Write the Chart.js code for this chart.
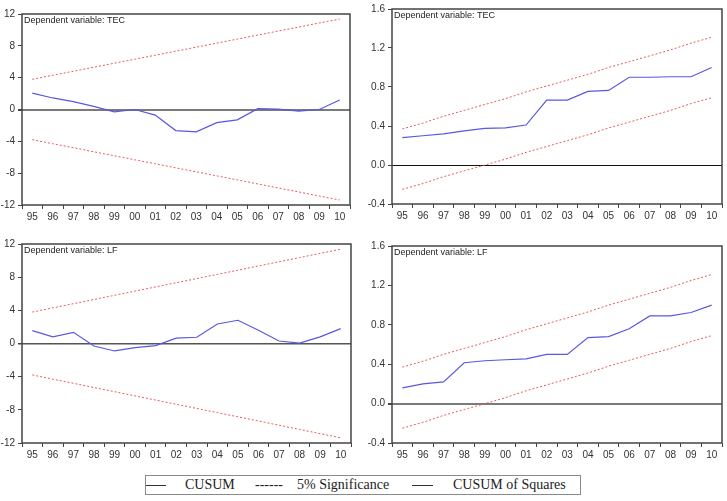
<!DOCTYPE html>
<html>
<head>
<meta charset="utf-8">
<script src="https://cdn.jsdelivr.net/npm/chart.js@4.4.1/dist/chart.umd.min.js"></script>
<style>
  html, body { margin: 0; padding: 0; background: #fff; }
  #page { position: relative; width: 727px; height: 501px; overflow: hidden; }
  canvas { position: absolute; }
  #legend {
    position: absolute; left: 145px; top: 475px; width: 434px; height: 18px;
    border: 1px solid #8a8a8a; font-family: "Liberation Serif", "Times New Roman", serif;
    font-size: 14px; color: #222;
  }
  #legend span { position: absolute; top: 1px; white-space: nowrap; }
  #legend .ln { top: 9px; height: 0; border-top: 1px solid #333; }
</style>
</head>
<body>
<div id="page">
  <canvas id="cusumTec" width="360" height="235" style="left:0;top:0"></canvas>
  <canvas id="sqTec" width="367" height="235" style="left:360px;top:0"></canvas>
  <canvas id="cusumLf" width="360" height="240" style="left:0;top:235px"></canvas>
  <canvas id="sqLf" width="367" height="240" style="left:360px;top:235px"></canvas>
  <div id="legend">
    <span class="ln" style="left:0;width:20px"></span>
    <span style="left:39px">CUSUM</span>
    <span style="left:109px">------</span>
    <span style="left:151px">5% Significance</span>
    <span class="ln" style="left:266px;width:21px"></span>
    <span style="left:307px">CUSUM of Squares</span>
  </div>
</div>
<script>
const years = ['95', '96', '97', '98', '99', '00', '01', '02', '03', '04', '05', '06', '07', '08', '09', '10'];

// CUSUM panels
const cusumTEC = [2.05, 1.45, 1.0, 0.4, -0.3, 0.0, -0.7, -2.65, -2.8, -1.65, -1.3, 0.1, 0.05, -0.2, 0.0, 1.2];
const cusumLF = [1.55, 0.8, 1.35, -0.3, -0.9, -0.5, -0.25, 0.65, 0.75, 2.35, 2.8, 1.6, 0.3, 0.05, 0.8, 1.8];
const cusumUpper = [3.79, 4.30, 4.80, 5.31, 5.81, 6.32, 6.82, 7.33, 7.83, 8.34, 8.84, 9.35, 9.86, 10.36, 10.87, 11.37];
const cusumLower = [-3.79, -4.30, -4.80, -5.31, -5.81, -6.32, -6.82, -7.33, -7.83, -8.34, -8.84, -9.35, -9.86, -10.36, -10.87, -11.37];

// CUSUM of squares panels
const sqTEC = [0.28, 0.30, 0.32, 0.35, 0.375, 0.38, 0.41, 0.665, 0.665, 0.755, 0.765, 0.90, 0.90, 0.905, 0.905, 1.0];
const sqLF = [0.16, 0.20, 0.22, 0.415, 0.435, 0.445, 0.455, 0.50, 0.50, 0.67, 0.68, 0.76, 0.89, 0.89, 0.925, 1.0];
const sqUpper = [0.37, 0.43, 0.50, 0.56, 0.62, 0.68, 0.75, 0.81, 0.87, 0.93, 1.00, 1.06, 1.12, 1.18, 1.25, 1.31];
const sqLower = [-0.25, -0.19, -0.12, -0.06, 0.00, 0.06, 0.13, 0.19, 0.25, 0.31, 0.38, 0.44, 0.50, 0.56, 0.63, 0.69];

const blue = '#5858e0';
const red = '#e65c5c';
const axisColor = '#444';
const tickFont = { family: 'Liberation Sans, Arial, sans-serif', size: 10 };

const framePlugin = {
    id: 'frame',
    afterDraw(chart, args, opts) {
        const { ctx, chartArea: a } = chart;
        ctx.save();
        ctx.strokeStyle = axisColor;
        ctx.lineWidth = 1.5;
        ctx.strokeRect(a.left, a.top, a.right - a.left, a.bottom - a.top);
        ctx.fillStyle = '#222';
        ctx.font = '9px Liberation Sans, Arial, sans-serif';
        ctx.textBaseline = 'middle';
        ctx.fillText(opts.label, a.left + 2, a.top + 7);
        ctx.restore();
    }
};

function makeChart(id, cfg) {
    new Chart(document.getElementById(id), {
        type: 'line',
        data: {
            labels: years,
            datasets: [
                { data: cfg.upper, borderColor: red, borderWidth: 1, borderDash: [2, 2], pointRadius: 0, fill: false },
                { data: cfg.lower, borderColor: red, borderWidth: 1, borderDash: [2, 2], pointRadius: 0, fill: false },
                { data: cfg.values, borderColor: blue, borderWidth: 1.2, pointRadius: 0, fill: false }
            ]
        },
        options: {
            responsive: false,
            animation: false,
            layout: { padding: { top: cfg.top, right: cfg.right, left: 0, bottom: 0 } },
            plugins: {
                legend: { display: false },
                tooltip: { enabled: false },
                frame: { label: cfg.label }
            },
            scales: {
                x: {
                    type: 'category',
                    offset: true,
                    border: { display: false },
                    grid: { offset: true, drawOnChartArea: false, tickLength: 4, color: axisColor, lineWidth: 1 },
                    ticks: { color: '#333', font: tickFont, padding: 2, maxRotation: 0, autoSkip: false },
                    afterFit: (s) => { s.height = cfg.xHeight; }
                },
                y: {
                    min: cfg.min,
                    max: cfg.max,
                    border: { display: false },
                    grid: {
                        tickLength: 4,
                        tickColor: axisColor,
                        color: (c) => (c.tick && c.tick.value === 0 ? cfg.zeroColor : 'rgba(0,0,0,0)'),
                        lineWidth: (c) => (c.tick && c.tick.value === 0 ? cfg.zeroWidth : 1)
                    },
                    ticks: {
                        stepSize: cfg.step,
                        color: '#333',
                        font: tickFont,
                        padding: 3,
                        callback: (v) => cfg.decimals ? v.toFixed(1) : v
                    },
                    afterFit: (s) => { s.width = cfg.yWidth; }
                }
            }
        },
        plugins: [framePlugin]
    });
}

makeChart('cusumTec', {
    values: cusumTEC, upper: cusumUpper, lower: cusumLower, label: 'Dependent variable: TEC',
    min: -12, max: 12, step: 4, decimals: false,
    top: 14, right: 10, xHeight: 30, yWidth: 22, zeroColor: '#7a7a7a', zeroWidth: 2
});
makeChart('sqTec', {
    values: sqTEC, upper: sqUpper, lower: sqLower, label: 'Dependent variable: TEC',
    min: -0.4, max: 1.6, step: 0.4, decimals: true,
    top: 4, right: 5, xHeight: 31, yWidth: 32, zeroColor: '#111', zeroWidth: 1
});
makeChart('cusumLf', {
    values: cusumLF, upper: cusumUpper, lower: cusumLower, label: 'Dependent variable: LF',
    min: -12, max: 12, step: 4, decimals: false,
    top: 8, right: 9, xHeight: 32, yWidth: 22, zeroColor: '#555', zeroWidth: 1.5
});
makeChart('sqLf', {
    values: sqLF, upper: sqUpper, lower: sqLower, label: 'Dependent variable: LF',
    min: -0.4, max: 1.6, step: 0.4, decimals: true,
    top: 11, right: 5, xHeight: 32, yWidth: 32, zeroColor: '#7a7a7a', zeroWidth: 2
});
</script>
</body>
</html>
